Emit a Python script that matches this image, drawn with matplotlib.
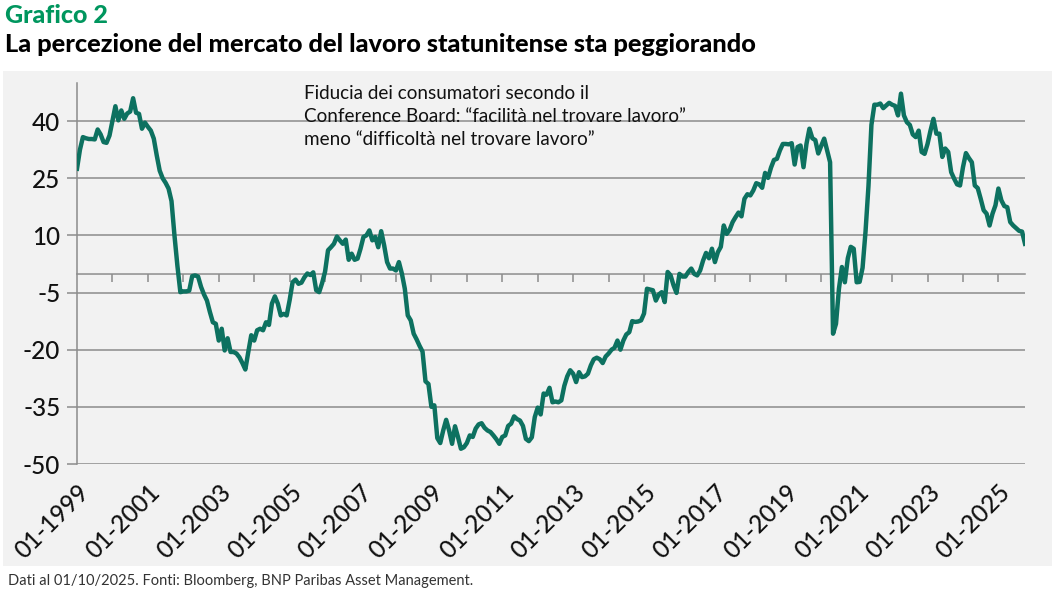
import numpy as np
import matplotlib.pyplot as plt
from matplotlib.patches import Rectangle

plt.rcParams['font.family'] = ['Lato', 'DejaVu Sans']
plt.rcParams['axes.unicode_minus'] = False

# differenziale mensile, gen 1999 - ott 2025
v1999 = [27.5, 32.5, 35.8, 35.5, 35.3, 35.3, 35.2, 37.8, 36.5, 34.5, 34.3, 36.2]
v2000 = [40.0, 43.9, 40.2, 42.8, 40.6, 42.0, 42.5, 46.0, 42.2, 41.9, 38.0, 39.6]
v2001 = [38.5, 37.5, 35.4, 31.0, 27.0, 25.0, 23.8, 22.3, 19.0, 10.0, 2.0, -4.9]
v2002 = [-4.7, -4.7, -4.5, -0.7, -0.5, -0.8, -3.5, -5.5, -7.1, -10.1, -12.8, -13.2]
v2003 = [-17.6, -14.5, -20.2, -17.0, -20.6, -20.6, -21.0, -22.0, -23.5, -25.2, -20.6, -16.2]
v2004 = [-17.6, -14.9, -14.5, -14.9, -12.8, -13.5, -7.9, -6.0, -7.9, -11.0, -10.6, -11.0]
v2005 = [-7.0, -2.3, -1.6, -2.7, -2.4, -1.0, 0.0, -0.4, 0.3, -4.4, -4.9, -2.5]
v2006 = [0.5, 6.1, 6.9, 7.8, 9.7, 8.7, 7.8, 8.9, 3.6, 5.2, 3.6, 3.9]
v2007 = [6.5, 9.6, 10.0, 11.3, 8.7, 9.6, 6.9, 11.1, 7.4, 3.0, 1.3, 1.3]
v2008 = [0.8, 3.0, 0.0, -4.0, -11.0, -12.3, -15.8, -17.3, -19.0, -20.5, -28.3, -29.0]
v2009 = [-35.0, -34.6, -43.2, -44.5, -41.2, -38.4, -41.2, -44.7, -40.1, -42.9, -46.0, -45.6]
v2010 = [-44.5, -42.5, -42.9, -40.7, -39.6, -39.3, -40.5, -41.2, -41.6, -42.5, -43.5, -44.7]
v2011 = [-42.9, -42.5, -40.0, -39.4, -37.5, -38.2, -38.6, -40.0, -43.4, -44.0, -43.0, -37.7]
v2012 = [-35.2, -37.0, -31.5, -31.8, -30.0, -33.8, -33.6, -33.8, -33.3, -29.5, -27.0, -25.4]
v2013 = [-26.3, -28.5, -25.9, -27.2, -27.0, -26.3, -24.1, -22.5, -22.1, -22.5, -23.5, -21.8]
v2014 = [-21.0, -20.0, -19.5, -17.6, -20.0, -17.6, -16.0, -15.4, -12.5, -12.7, -12.6, -12.3]
v2015 = [-10.5, -4.0, -4.2, -4.4, -7.1, -5.5, -4.9, -7.5, 0.4, -0.5, -3.1, -5.1]
v2016 = [-0.1, -0.8, -0.8, 0.4, 1.3, -0.1, -0.5, 0.8, 3.4, 5.4, 4.0, 6.5]
v2017 = [3.0, 5.6, 7.0, 12.6, 10.4, 11.5, 13.5, 14.8, 16.0, 15.0, 19.6, 20.8]
v2018 = [20.5, 21.8, 23.7, 23.4, 22.5, 26.4, 25.1, 27.8, 29.8, 30.1, 32.3, 34.0]
v2019 = [34.0, 33.9, 34.2, 28.6, 33.2, 33.6, 27.9, 34.0, 38.0, 35.5, 35.0, 31.5]
v2020 = [33.5, 35.4, 32.3, 29.2, -15.8, -13.2, -4.0, 1.7, -2.3, 4.0, 7.0, 6.5]
v2021 = [-2.3, -2.2, 1.5, 11.0, 23.0, 39.0, 44.3, 44.3, 44.6, 43.4, 44.1, 44.8]
v2022 = [44.3, 44.0, 41.5, 47.2, 41.5, 39.7, 39.0, 36.5, 35.8, 37.5, 31.9, 31.4]
v2023 = [34.0, 37.5, 40.6, 36.7, 36.7, 30.6, 32.8, 31.9, 26.6, 24.9, 23.4, 23.1]
v2024 = [27.9, 31.6, 30.3, 29.2, 23.1, 22.4, 19.6, 16.6, 15.7, 12.6, 15.7, 17.9]
v2025 = [22.3, 19.2, 17.7, 17.4, 13.5, 12.6, 11.9, 11.2, 11.0, 7.8]

valori = (v1999 + v2000 + v2001 + v2002 + v2003 + v2004 + v2005 + v2006 + v2007
          + v2008 + v2009 + v2010 + v2011 + v2012 + v2013 + v2014 + v2015 + v2016
          + v2017 + v2018 + v2019 + v2020 + v2021 + v2022 + v2023 + v2024 + v2025)
mesi = np.arange(len(valori))
anni = list(range(1999, 2026))

verde = '#0d7160'
grigio = '#8c8c8c'

fig = plt.figure(figsize=(10.56, 5.92), dpi=100)
fig.patches.append(Rectangle((3 / 1056, 1 - 566 / 592), 1049 / 1056, 495 / 592,
                             transform=fig.transFigure, facecolor='#f2f2f2',
                             edgecolor='none', zorder=-10))

ax = fig.add_axes([77 / 1056, 1 - 464 / 592, 948 / 1056, 381 / 592])
ax.set_zorder(2)
ax.set_facecolor('none')
ax.plot(mesi, valori, color=verde, lw=3.2, solid_joinstyle='round', zorder=3)

ax.set_xlim(0, len(valori) - 1)
ax.set_ylim(-50, 50)
ax.set_yticks(np.arange(-50, 41, 15))
ax.yaxis.grid(True, color=grigio, lw=1.1)
ax.set_axisbelow(True)
for s in ['top', 'right', 'bottom']:
    ax.spines[s].set_visible(False)
ax.spines['left'].set_color(grigio)
ax.spines['left'].set_linewidth(1.1)
ax.tick_params(axis='y', length=7, color=grigio, width=1.1, labelsize=17.5,
               pad=5, labelcolor='#111111')

# etichette ogni due anni
pos_lab = [12 * (a - 1999) for a in anni[::2]]
ax.set_xticks(pos_lab)
ax.set_xticklabels(['01-%d' % a for a in anni[::2]], rotation=45, ha='right',
                   va='top', rotation_mode='anchor')
ax.tick_params(axis='x', length=0, labelsize=17.5, pad=12, labelcolor='#111111')
for t in ax.get_xticklabels() + ax.get_yticklabels():
    t.set_fontweight('medium')

# asse dello zero con tacche annuali
ax0 = ax.secondary_xaxis(0.5)
ax0.set_alignment('bottom')
ax0.set_xticks([12 * (a - 1999) for a in anni[1:]])
ax0.set_xticklabels([])
for s in ax0.spines.values():
    s.set_color(grigio)
    s.set_linewidth(1.1)
ax0.tick_params(axis='x', direction='out', length=6, color=grigio, width=1.1)

ax.text(0.239, 0.995, 'Fiducia dei consumatori secondo il\n'
        'Conference Board: \u201cfacilit\u00e0 nel trovare lavoro\u201d\n'
        'meno \u201cdifficolt\u00e0 nel trovare lavoro\u201d',
        transform=ax.transAxes, fontsize=13.6, va='top', ha='left',
        linespacing=1.42, color='#111111')

fig.text(5 / 1056, 1 - 4 / 592, 'Grafico 2', color='#00965e', fontsize=18,
         fontweight='black', va='top', ha='left')
fig.text(5 / 1056, 1 - 33 / 592,
         'La percezione del mercato del lavoro statunitense sta peggiorando',
         color='black', fontsize=18.3, fontweight='black', va='top', ha='left')
fig.text(8 / 1056, 1 - 581 / 592,
         'Dati al 01/10/2025. Fonti: Bloomberg, BNP Paribas Asset Management.',
         color='#333333', fontsize=10.5, va='center', ha='left')

fig.savefig('out.png', dpi=100, facecolor='white')
